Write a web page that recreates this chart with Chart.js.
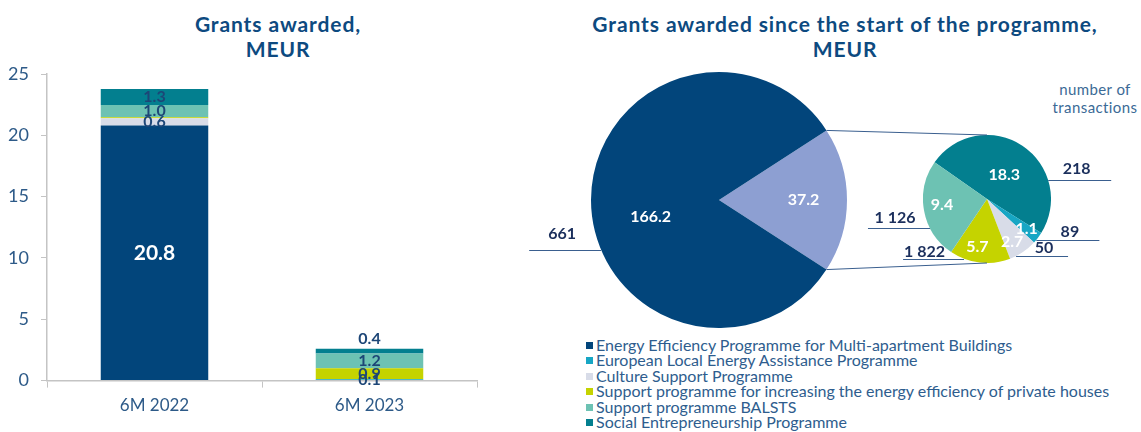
<!DOCTYPE html>
<html>
<head>
<meta charset="utf-8">
<script src="https://cdn.jsdelivr.net/npm/chart.js@4.4.1/dist/chart.umd.min.js"></script>
<style>
html,body{margin:0;padding:0;background:#fff;}
#root{position:relative;width:1141px;height:432px;overflow:hidden;font-family:Lato,'Open Sans',sans-serif;}
.title{position:absolute;text-align:center;color:#0d4a80;font-weight:700;font-size:21px;line-height:25px;letter-spacing:0.9px;white-space:nowrap;}
#barBox{position:absolute;left:0;top:0;width:490px;height:432px;}
#bigBox{position:absolute;left:591px;top:72px;width:256px;height:256px;}
#smallBox{position:absolute;left:923px;top:135px;width:128px;height:128px;}
#overlay{position:absolute;left:0;top:0;pointer-events:none;}
#legend{position:absolute;left:586px;top:337px;font-size:16px;line-height:15.4px;color:#2e5d8e;}
.lg{white-space:nowrap;}
.sw{display:inline-block;width:7px;height:7px;margin-right:3px;vertical-align:2px;}
#ntx{position:absolute;left:1035px;top:80px;width:120px;text-align:center;font-size:15px;line-height:18px;color:#3b6a96;letter-spacing:0.4px;}
</style>
</head>
<body>
<div id="root">
  <div class="title" style="left:78px;top:11px;width:400px;">Grants awarded,<br>MEUR</div>
  <div class="title" style="left:545px;top:11px;width:600px;">Grants awarded since the start of the programme,<br>MEUR</div>
  <div id="barBox"><canvas id="bar"></canvas></div>
  <div id="bigBox"><canvas id="big"></canvas></div>
  <div id="smallBox"><canvas id="small"></canvas></div>
  <div id="ntx">number of<br>transactions</div>
  <div id="legend"></div>
  <canvas id="overlay" width="1141" height="432"></canvas>
</div>
<script>
// ---------- DATA ----------
const categories = ['6M 2022', '6M 2023'];
const yTicks = [0, 5, 10, 15, 20, 25];
const programmes = [
  'Energy Efficiency Programme for Multi-apartment Buildings',
  'European Local Energy Assistance Programme',
  'Culture Support Programme',
  'Support programme for increasing the energy efficiency of private houses',
  'Support programme BALSTS',
  'Social Entrepreneurship Programme'
];
const energyEfficiency = [20.8, 0];
const elena = [0, 0.1];
const culture = [0.6, 0];
const privateHouses = [0.08, 0.9];
const balsts = [1.0, 1.2];
const socialEntrepreneurship = [1.3, 0.4];

const totalLabels = ['Other programmes', 'Energy Efficiency Programme for Multi-apartment Buildings'];
const totalValues = [37.2, 166.2];
const totalTransactions = [null, 661];

const otherLabels = ['Social Entrepreneurship Programme', 'European Local Energy Assistance Programme',
  'Culture Support Programme', 'Support programme for increasing the energy efficiency of private houses',
  'Support programme BALSTS'];
const otherValues = [18.3, 1.1, 2.7, 5.7, 9.4];
const otherTransactions = [218, 89, 50, 1822, 1126];

// ---------- STYLE ----------
const FONT = 'Lato, "Open Sans", sans-serif';
const TICK = '#2d5a88';
const C = {
  energy: '#02457b', elena: '#17a6c4', culture: '#d8dce8',
  privateH: '#c5d300', balsts: '#6dc2b3', social: '#037f8f', other: '#8d9fd2'
};
const programmeColors = [C.energy, C.elena, C.culture, C.privateH, C.balsts, C.social];
const totalColors = [C.other, C.energy];
const otherColors = [C.social, C.elena, C.culture, C.privateH, C.balsts];
const bigLabelPos = [{f: 0.66, a: 0}, {f: 0.55, a: -14}];
const smallLabelPos = [{f: 0.47, a: 1.5}, {f: 0.78, a: 0}, {f: 0.78, a: 4}, {f: 0.76, a: 5}, {f: 0.71, a: 2.5}];
const smallLeaders = [
  {deg: -17, dir: 1, len: 63, dy: 12, dx: -3},
  {deg: 39.5, dir: 1, len: 63, dy: 9, dx: 2},
  {deg: 63, dir: 1, len: 52, dy: 9, dx: 2},
  {deg: 111, dir: -1, len: 61, dy: 8, dx: -9},
  {deg: 153, dir: -1, len: 62, dy: 11, dx: -4}
];
const bigLeaders = [null, {deg: 157, dir: -1, len: 72, dy: 17, dx: -3}];

function fmtInt(n) { return String(n).replace(/\B(?=(\d{3})+(?!\d))/g, ' '); }

// ---------- LEGEND ----------
const lg = document.getElementById('legend');
programmes.forEach((p, i) => {
  const d = document.createElement('div');
  d.className = 'lg';
  d.innerHTML = '<span class="sw" style="background:' + programmeColors[i] + '"></span>' + p;
  lg.appendChild(d);
});

// ---------- BAR CHART ----------
const barSeries = [energyEfficiency, elena, culture, privateHouses, balsts, socialEntrepreneurship];
const barLabels = {
  id: 'barLabels',
  afterDatasetsDraw(chart) {
    const ctx = chart.ctx;
    ctx.save();
    ctx.textAlign = 'center';
    ctx.textBaseline = 'middle';
    chart.data.datasets.forEach((ds, di) => {
      const meta = chart.getDatasetMeta(di);
      meta.data.forEach((bar, i) => {
        const v = ds.data[i];
        if (!(v >= 0.1)) return;
        let isTop = true;
        for (let k = di + 1; k < chart.data.datasets.length; k++) {
          if (chart.data.datasets[k].data[i] > 0) isTop = false;
        }
        const h = Math.abs(bar.base - bar.y);
        let y = (bar.y + bar.base) / 2;
        if (isTop && h < 10) y = bar.y - 10;
        const big = v > 10;
        ctx.font = big ? 'bold 21px ' + FONT : 'bold 16px ' + FONT;
        ctx.fillStyle = big ? '#ffffff' : '#1d4677';
        ctx.fillText(v.toFixed(1), bar.x, y);
      });
    });
    ctx.restore();
  }
};

new Chart(document.getElementById('bar'), {
  type: 'bar',
  data: {
    labels: categories,
    datasets: barSeries.map((d, i) => ({
      label: programmes[i], data: d, backgroundColor: programmeColors[i],
      borderWidth: 0, barPercentage: 0.5, categoryPercentage: 1
    }))
  },
  options: {
    responsive: true, maintainAspectRatio: false, animation: false,
    layout: {padding: {left: 0, right: 13, top: 74, bottom: 8}},
    plugins: {legend: {display: false}, tooltip: {enabled: false}},
    scales: {
      x: {
        stacked: true,
        grid: {display: true, drawOnChartArea: false, drawTicks: true, tickLength: 7, color: '#c4c4c4', offset: true},
        border: {color: '#c4c4c4', width: 1.5},
        ticks: {font: {family: FONT, size: 17}, color: TICK, padding: 8}
      },
      y: {
        stacked: true, min: 0, max: 25,
        afterBuildTicks: (s) => { s.ticks = yTicks.map(v => ({value: v})); },
        afterFit: (s) => { s.width = 47; },
        grid: {display: true, drawOnChartArea: false, drawTicks: true, tickLength: 6, color: '#c4c4c4'},
        border: {color: '#c4c4c4', width: 1.5},
        ticks: {font: {family: FONT, size: 18}, color: TICK, padding: 12}
      }
    }
  },
  plugins: [barLabels]
});

// ---------- PIES ----------
function pieLabelPlugin(pos) {
  return {
    id: 'pieLabels',
    afterDatasetsDraw(chart) {
      const ctx = chart.ctx;
      ctx.save();
      ctx.font = 'bold 16px ' + FONT;
      ctx.fillStyle = '#ffffff';
      ctx.textAlign = 'center';
      ctx.textBaseline = 'middle';
      chart.getDatasetMeta(0).data.forEach((arc, i) => {
        const p = pos[i];
        const a = (arc.startAngle + arc.endAngle) / 2 + p.a * Math.PI / 180;
        const r = arc.outerRadius * p.f;
        ctx.fillText(chart.data.datasets[0].data[i].toFixed(1), arc.x + r * Math.cos(a), arc.y + r * Math.sin(a));
      });
      ctx.restore();
    }
  };
}

const totalSum = totalValues.reduce((a, b) => a + b, 0);
const bigChart = new Chart(document.getElementById('big'), {
  type: 'pie',
  data: {labels: totalLabels, datasets: [{data: totalValues, backgroundColor: totalColors, borderWidth: 0}]},
  options: {
    responsive: true, maintainAspectRatio: false, animation: false,
    rotation: 90 - (totalValues[0] / totalSum * 360) / 2,
    layout: {padding: 0},
    plugins: {legend: {display: false}, tooltip: {enabled: false}}
  },
  plugins: [pieLabelPlugin(bigLabelPos)]
});

const smallChart = new Chart(document.getElementById('small'), {
  type: 'pie',
  data: {labels: otherLabels, datasets: [{data: otherValues, backgroundColor: otherColors, borderWidth: 0}]},
  options: {
    responsive: true, maintainAspectRatio: false, animation: false,
    rotation: -55,
    layout: {padding: 0},
    plugins: {legend: {display: false}, tooltip: {enabled: false}}
  },
  plugins: [pieLabelPlugin(smallLabelPos)]
});

// ---------- OVERLAY: connectors & transaction counts ----------
function drawOverlay() {
  const cv = document.getElementById('overlay');
  const ctx = cv.getContext('2d');
  ctx.clearRect(0, 0, cv.width, cv.height);
  const bo = {x: bigChart.canvas.parentNode.offsetLeft, y: bigChart.canvas.parentNode.offsetTop};
  const so = {x: smallChart.canvas.parentNode.offsetLeft, y: smallChart.canvas.parentNode.offsetTop};
  const bigArcs = bigChart.getDatasetMeta(0).data;
  const smallArcs = smallChart.getDatasetMeta(0).data;
  const lav = bigArcs[0];
  const bx = lav.x + bo.x, by = lav.y + bo.y, R = lav.outerRadius;
  const s0 = smallArcs[0];
  const sx = s0.x + so.x, sy = s0.y + so.y, r = s0.outerRadius;

  ctx.strokeStyle = '#3a5f8f';
  ctx.lineWidth = 1;
  function seg(x1, y1, x2, y2) { ctx.beginPath(); ctx.moveTo(x1, y1); ctx.lineTo(x2, y2); ctx.stroke(); }
  seg(bx + R * Math.cos(lav.startAngle), by + R * Math.sin(lav.startAngle), sx, sy - r);
  seg(bx + R * Math.cos(lav.endAngle), by + R * Math.sin(lav.endAngle), sx, sy + r);

  ctx.font = 'bold 16px ' + FONT;
  ctx.fillStyle = '#1b2f5c';
  ctx.textAlign = 'center';
  ctx.textBaseline = 'middle';
  function leader(cx, cy, rad, L, value) {
    const a = L.deg * Math.PI / 180;
    const x0 = cx + rad * Math.cos(a), y0 = Math.round(cy + rad * Math.sin(a)) + 0.5;
    const x1 = x0 + L.dir * L.len;
    seg(x0, y0, x1, y0);
    ctx.fillText(fmtInt(value), (x0 + x1) / 2 + L.dx, y0 - L.dy);
  }
  otherTransactions.forEach((v, i) => { if (v != null) leader(sx, sy, r, smallLeaders[i], v); });
  totalTransactions.forEach((v, i) => { if (v != null) leader(bx, by, R, bigLeaders[i], v); });
}
drawOverlay();
</script>
</body>
</html>
